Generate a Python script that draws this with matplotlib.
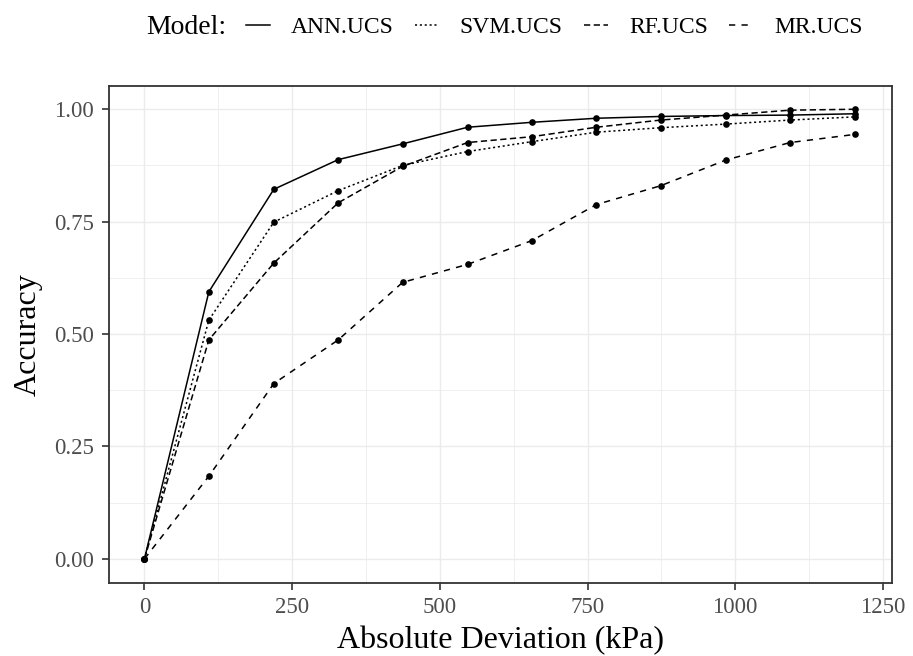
import numpy as np
import matplotlib
matplotlib.use("Agg")
import matplotlib.pyplot as plt
from matplotlib.lines import Line2D

# accuracy vs absolute deviation for each model
deviation = [0, 109, 219, 328, 437, 547, 656, 765, 874, 984, 1093, 1202]
ann_ucs = [0.0, 0.594, 0.822, 0.888, 0.923, 0.960, 0.971, 0.980, 0.984, 0.986, 0.987, 0.990]
svm_ucs = [0.0, 0.531, 0.749, 0.819, 0.875, 0.906, 0.928, 0.949, 0.959, 0.967, 0.976, 0.983]
rf_ucs = [0.0, 0.487, 0.658, 0.792, 0.873, 0.926, 0.939, 0.960, 0.976, 0.987, 0.998, 1.000]
mr_ucs = [0.0, 0.184, 0.390, 0.487, 0.615, 0.655, 0.708, 0.788, 0.830, 0.887, 0.926, 0.944]

models = ["ANN.UCS", "SVM.UCS", "RF.UCS", "MR.UCS"]
series = [ann_ucs, svm_ucs, rf_ucs, mr_ucs]
styles = ["-", (0, (1.5, 2.0)), (0, (4.5, 2.5)), (0, (4.5, 4.5))]

x_ticks = [0, 250, 500, 750, 1000, 1250]
y_ticks = [0.00, 0.25, 0.50, 0.75, 1.00]

plt.rcParams['font.family'] = ['Liberation Serif', 'DejaVu Serif']
plt.rcParams['lines.scale_dashes'] = False

fig = plt.figure(figsize=(9.13, 6.56), dpi=100)
ax = fig.add_axes([0.1194, 0.1117, 0.8573, 0.7567])

for vals, ls in zip(series, styles):
    ax.plot(deviation, vals, color='black', linestyle=ls, linewidth=1.1,
            marker='o', markersize=4.8, markeredgewidth=0, zorder=3)

ax.set_xlim(-60, 1265)
ax.set_ylim(-0.053, 1.051)
ax.set_xticks(x_ticks)
ax.set_xticklabels([str(t) for t in x_ticks])
ax.set_yticks(y_ticks)
ax.set_yticklabels(["%.2f" % t for t in y_ticks])
ax.set_xticks([125, 375, 625, 875, 1125], minor=True)
ax.set_yticks([0.125, 0.375, 0.625, 0.875], minor=True)

ax.grid(which='major', color='#EBEBEB', linewidth=1.0)
ax.grid(which='minor', color='#EBEBEB', linewidth=0.55)
ax.set_axisbelow(True)
for s in ax.spines.values():
    s.set_color('#333333')
    s.set_linewidth(1.3)

ax.tick_params(which='major', length=5, width=1.2, color='#333333',
               labelsize=16.5, labelcolor='#4D4D4D', pad=5)
ax.tick_params(axis='y', pad=6)
ax.tick_params(which='minor', length=0)

ax.set_xlabel("Absolute Deviation (kPa)", fontsize=23, labelpad=6)
ax.set_ylabel("Accuracy", fontsize=23, labelpad=8)

handles = [Line2D([], [], color='black', linestyle=ls, linewidth=1.1) for ls in styles]
fig.legend(handles, models, ncol=4, loc='center', bbox_to_anchor=(0.607, 0.958),
           frameon=False, fontsize=17, handlelength=1.0, handletextpad=0.9,
           columnspacing=0.9)
fig.text(0.248, 0.958, "Model:", fontsize=20, ha='right', va='center')

fig.savefig("out.png", dpi=100)
